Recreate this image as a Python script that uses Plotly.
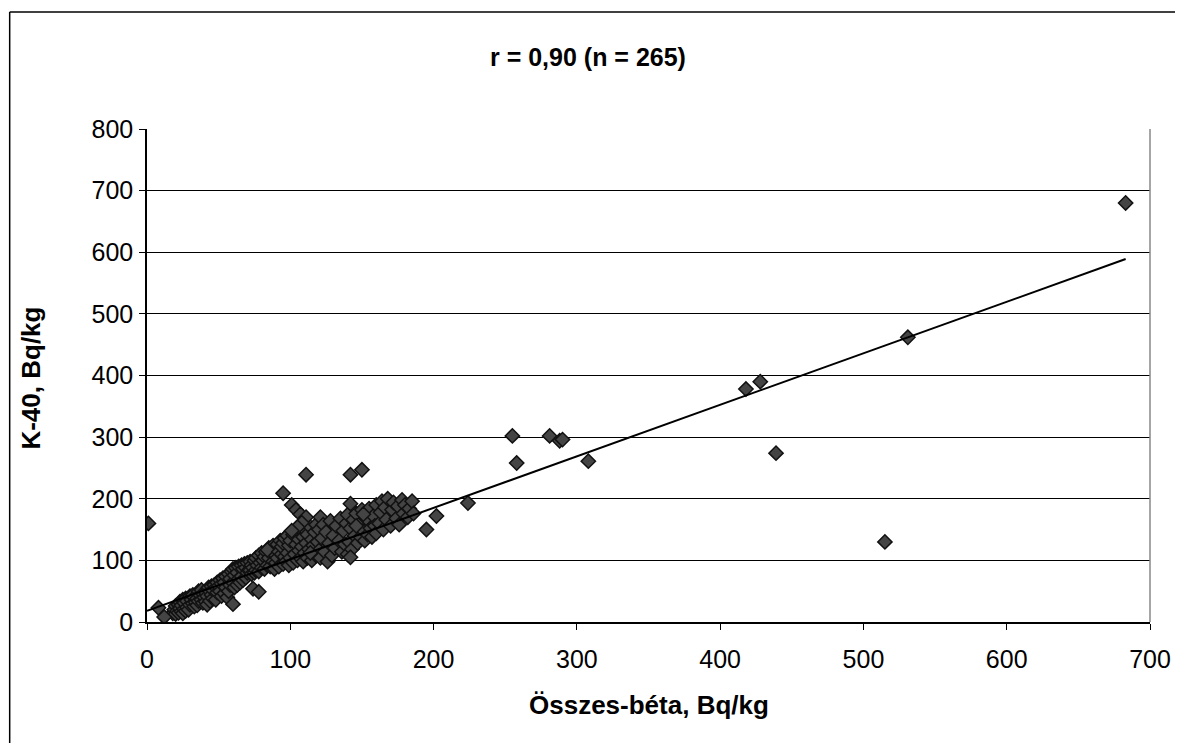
import plotly.graph_objects as go

# Összes-béta (x, Bq/kg) and K-40 (y, Bq/kg) values
cluster_x = [
    18, 19, 20, 20, 21, 22, 22, 23, 23, 24, 24, 25, 25, 26, 26, 27, 27, 28, 28, 29, 30, 30,
    31, 32, 32, 33, 33, 34, 35, 35, 36, 36, 37, 38, 38, 39, 39, 40, 41, 41, 42, 42, 43, 44, 44, 45, 45,
    46, 46, 47, 48, 48, 49, 49, 50, 51, 51, 52, 52, 53, 54, 54, 55, 55, 56, 57, 57, 58, 58, 59, 60, 60,
    61, 61, 62, 63, 63, 64, 64, 65, 66, 66, 67, 67, 68, 69, 69, 70, 70, 71, 72, 72, 73, 73, 74, 75, 75,
    76, 76, 77, 78, 78, 79, 80, 80, 81, 82, 82, 83, 84, 85, 85, 86, 87, 88, 88, 89, 89, 90, 90, 84,
    91, 91, 92, 92, 93, 94, 94, 95, 95, 96, 96, 97, 98, 98, 99, 99, 100, 100, 102, 102, 103, 104, 105,
    106, 106, 107, 107, 108, 109, 109, 110, 110, 111, 112, 112, 113, 114, 115, 115, 116, 117, 118, 118, 119, 120, 120, 114,
    101, 104, 107, 111, 108, 105, 101, 121,
    121, 122, 123, 124, 125, 126, 127, 128, 129, 130, 131, 132, 134, 135, 136, 137, 138, 139, 140, 140,
    141, 142, 143, 144, 145, 146, 147, 148, 149, 150, 151, 152, 153, 154, 155, 156, 157, 158, 159, 160, 160, 146,
    162, 163, 164, 165, 166, 167, 168, 170, 171, 172, 174, 175, 176, 178, 179, 180, 182, 183, 185, 186,
]
cluster_y = [
    14, 20, 13, 26, 18, 15, 28, 22, 33, 17, 27, 14, 36, 21, 31, 18, 38, 24, 34, 20, 28, 42,
    36, 30, 44, 25, 40, 32, 27, 38, 34, 50, 44, 36, 52, 31, 46, 40, 33, 48, 28, 42, 56, 50, 34, 44, 58,
    38, 52, 60, 36, 56, 48, 64, 58, 50, 68, 42, 62, 71, 46, 64, 56, 74, 40, 50, 78, 60, 70, 82, 64, 86,
    56, 76, 88, 60, 80, 70, 90, 64, 74, 92, 68, 86, 94, 72, 88, 80, 96, 84, 98, 84, 78, 92, 88, 80, 100,
    84, 104, 92, 82, 108, 96, 88, 112, 100, 86, 106, 114, 92, 104, 120, 90, 110, 98, 124, 86, 116, 96, 108, 117,
    104, 126, 90, 114, 132, 110, 122, 94, 128, 106, 136, 98, 112, 140, 92, 124, 104, 132, 96, 142, 110, 126, 100,
    116, 134, 104, 146, 122, 98, 138, 112, 150, 128, 104, 142, 118, 154, 100, 134, 124, 146, 108, 158, 130, 116, 150, 112,
    190, 182, 175, 170, 161, 154, 148, 170,
    104, 136, 158, 114, 146, 98, 128, 164, 108, 140, 120, 156, 132, 168, 114, 148, 126, 160, 110, 174,
    130, 152, 118, 166, 140, 176, 128, 158, 138, 182, 148, 132, 168, 142, 184, 152, 138, 172, 156, 144, 190, 156,
    160, 178, 196, 150, 186, 166, 200, 156, 182, 194, 168, 188, 158, 198, 176, 190, 170, 184, 196, 176,
]
outlier_x = [1, 8, 12, 60, 74, 78, 95, 111, 142, 150, 142, 151, 142, 195, 202, 224,
             255, 258, 281, 288, 290, 308, 418, 428, 439, 515, 531, 683]
outlier_y = [160, 23, 8, 29, 54, 49, 209, 239, 239, 247, 192, 175, 105, 150, 172, 193,
             302, 258, 302, 294, 296, 261, 378, 390, 274, 130, 462, 680]

# linear trend line end points
trend_x = [0, 683]
trend_y = [18, 589]

title_text = "r = 0,90 (n = 265)"
x_title = "Összes-béta, Bq/kg"
y_title = "K-40, Bq/kg"
x_ticks = [0, 100, 200, 300, 400, 500, 600, 700]
y_ticks = [0, 100, 200, 300, 400, 500, 600, 700, 800]

all_x = cluster_x + outlier_x
all_y = cluster_y + outlier_y

FONT = "Liberation Sans, Arial, sans-serif"

# plot area in page pixels: x 147..1155, y 129..622 (page body has an 8px margin)
PL, PR, PT, PB = 147, 1155, 129, 622
PW, PH = PR - PL, PB - PT


def px(x):
    return (x - PL) / PW


def py(y):
    return (PB - y) / PH


fig = go.Figure()
fig.add_trace(go.Scatter(
    x=all_x, y=all_y, mode="markers",
    marker=dict(symbol="diamond", size=11, color="#444444",
                line=dict(color="#111111", width=1.5)),
    showlegend=False, hoverinfo="x+y",
))
fig.add_trace(go.Scatter(
    x=trend_x, y=trend_y, mode="lines",
    line=dict(color="#000000", width=2),
    showlegend=False, hoverinfo="skip",
))

fig.update_layout(
    width=1175, height=735,
    margin=dict(l=PL - 8, r=1183 - PR, t=PT - 8, b=743 - PB),
    paper_bgcolor="white", plot_bgcolor="white",
    font=dict(family=FONT, color="#000000"),
    showlegend=False,
    xaxis=dict(
        range=[0, 700], tickvals=x_ticks, ticktext=[str(v) for v in x_ticks],
        showgrid=False, zeroline=False,
        showline=True, linecolor="#000000", linewidth=1.5,
        ticks="outside", ticklen=6, tickcolor="#000000", tickwidth=1,
        tickfont=dict(family=FONT, size=25, color="#000000"),
        ticklabelstandoff=8,
    ),
    yaxis=dict(
        range=[0, 800], tickvals=y_ticks, ticktext=[str(v) for v in y_ticks],
        showgrid=True, gridcolor="#000000", gridwidth=1,
        zeroline=False,
        showline=True, linecolor="#000000", linewidth=1.5,
        ticks="outside", ticklen=6, tickcolor="#000000", tickwidth=1,
        tickfont=dict(family=FONT, size=25, color="#000000"),
        ticklabelstandoff=1,
    ),
    annotations=[
        dict(text="<b>" + title_text + "</b>", xref="paper", yref="paper",
             x=px(590), y=py(57), xanchor="center", yanchor="middle",
             showarrow=False, font=dict(family=FONT, size=25, color="#000000")),
        dict(text="<b>" + x_title + "</b>", xref="paper", yref="paper",
             x=px(651), y=py(705), xanchor="center", yanchor="middle",
             showarrow=False, font=dict(family=FONT, size=26, color="#000000")),
        dict(text="<b>" + y_title + "</b>", xref="paper", yref="paper",
             x=px(30), y=py(378), xanchor="center", yanchor="middle",
             textangle=-90, showarrow=False, font=dict(family=FONT, size=26, color="#000000")),
    ],
    shapes=[
        # plot-area right border (grey)
        dict(type="line", xref="paper", yref="paper", x0=1, x1=1, y0=0, y1=1,
             line=dict(color="#888888", width=1.5)),
        # outer chart frame (left and top edges)
        dict(type="line", xref="paper", yref="paper",
             x0=px(9), x1=px(9), y0=py(743), y1=py(12),
             line=dict(color="#000000", width=1.5)),
        dict(type="line", xref="paper", yref="paper",
             x0=px(9), x1=px(1183), y0=py(12), y1=py(12),
             line=dict(color="#000000", width=1.5)),
    ],
)

fig.write_html("out.html")
